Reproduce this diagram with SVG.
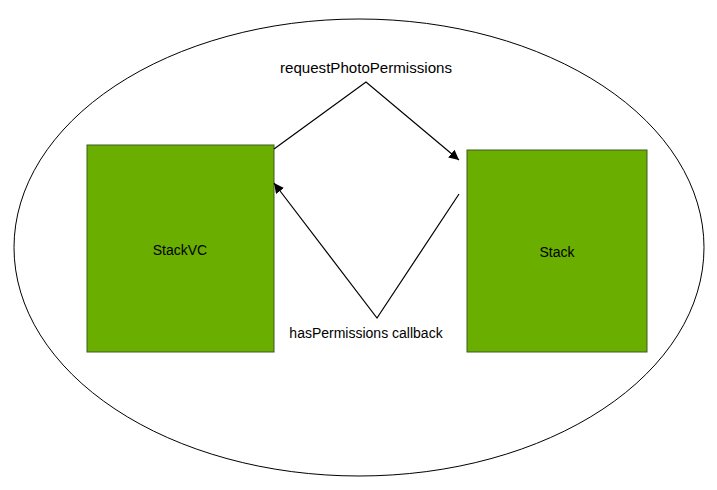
<svg xmlns="http://www.w3.org/2000/svg" width="717" height="490" viewBox="0 0 717 490">
<style>
.node{fill:#6aae00;stroke:#3f5a24;stroke-width:1}
.lbl{font-family:"Liberation Sans",Arial,sans-serif;font-size:14px;fill:#000;text-anchor:middle}
.conn{fill:none;stroke:#000;stroke-width:1.2}
</style>
<defs>
<marker id="arr" viewBox="0 0 10 10" refX="10" refY="5" markerWidth="10" markerHeight="10" markerUnits="userSpaceOnUse" orient="auto">
<path d="M0,0 L10,5 L0,10 z" fill="#000"/>
</marker>
</defs>
<rect width="717" height="490" fill="#fff"/>
<g id="boundary"><ellipse cx="359" cy="247.5" rx="345" ry="228.5" fill="none" stroke="#000" stroke-width="1"/></g>
<g id="stackvc"><rect class="node" x="87" y="145" width="187" height="207"/><text class="lbl" x="180" y="255">StackVC</text></g>
<g id="stack"><rect class="node" x="467" y="150" width="180" height="202"/><text class="lbl" x="557" y="257">Stack</text></g>
<g id="connectors">
<polyline class="conn" points="274,149 366,82 459,160" marker-end="url(#arr)"/>
<polyline class="conn" points="459,194 377,318 274,183" marker-end="url(#arr)"/>
<text class="lbl" x="366" y="73" textLength="172" lengthAdjust="spacingAndGlyphs">requestPhotoPermissions</text>
<text class="lbl" x="366" y="338">hasPermissions callback</text>
</g>
</svg>
